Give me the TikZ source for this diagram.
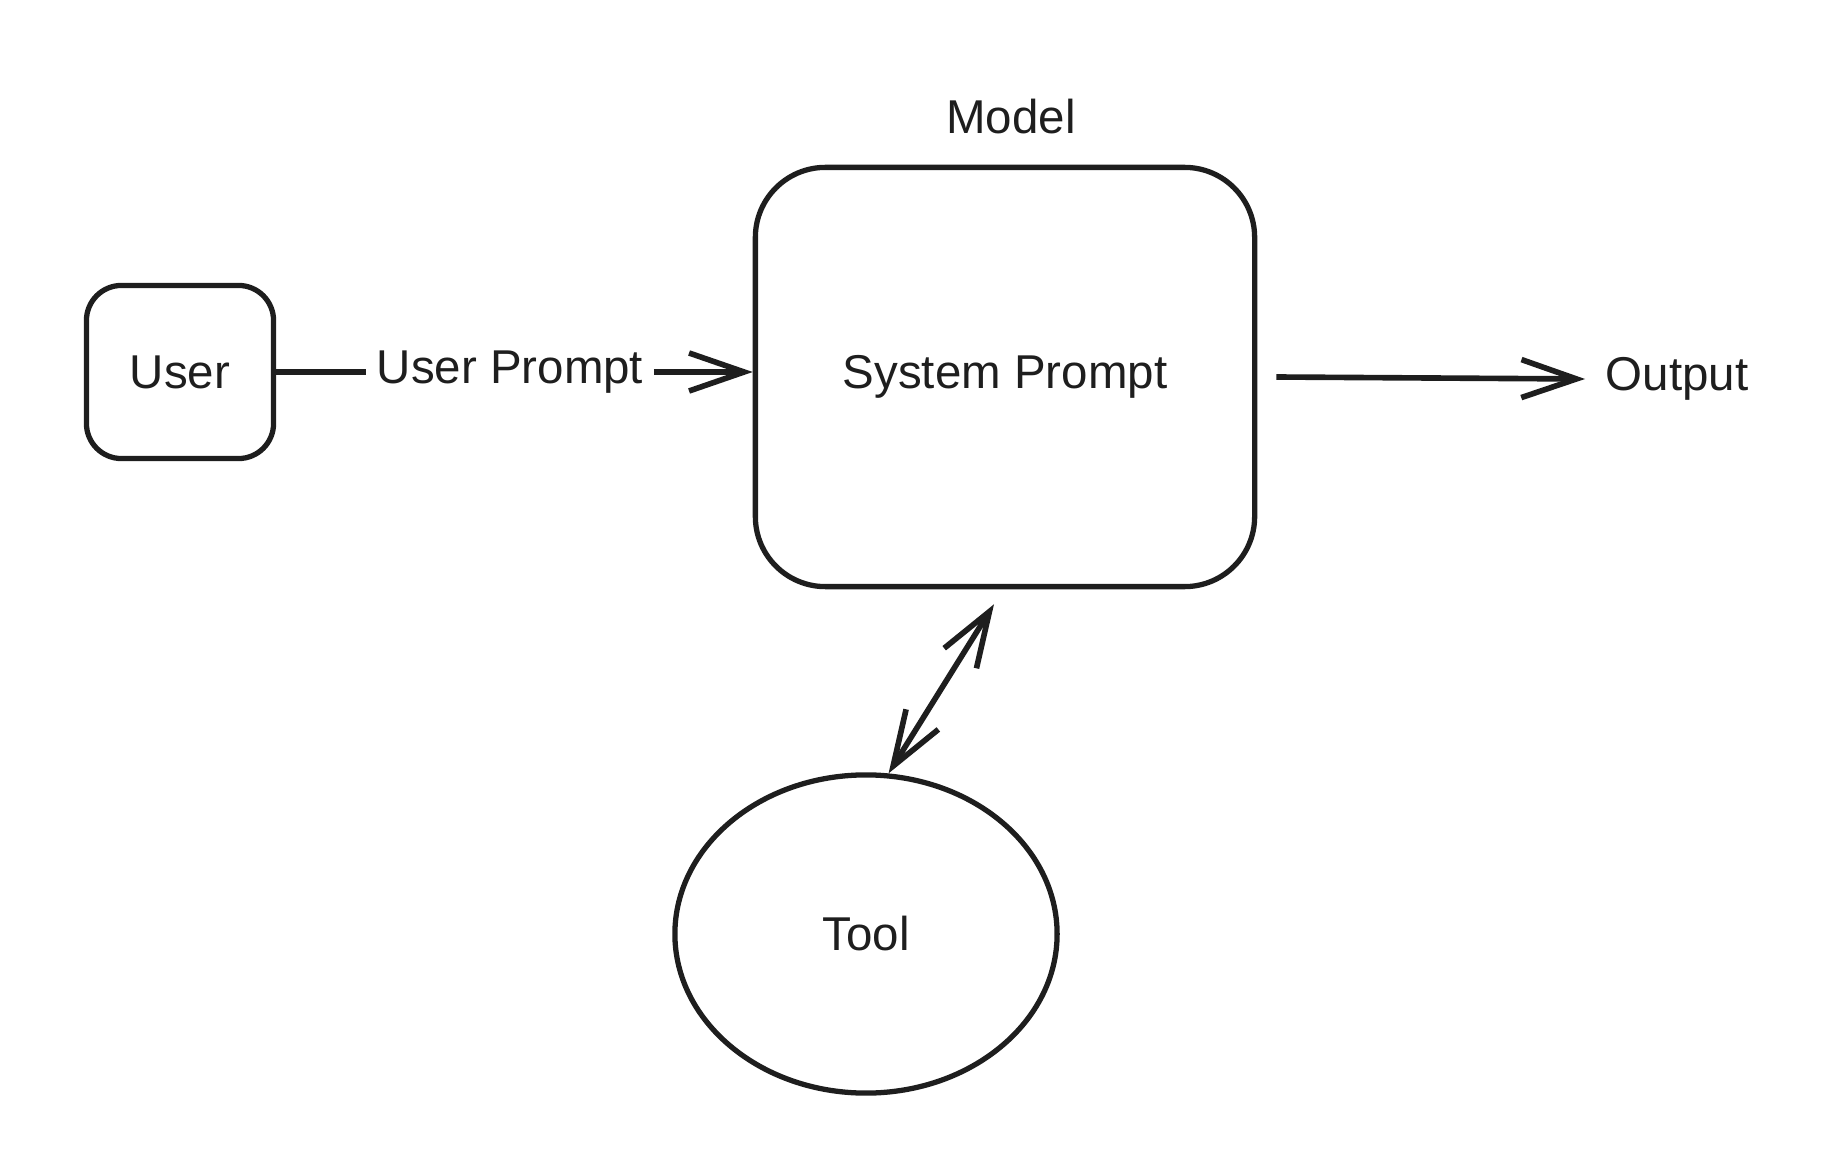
\documentclass[tikz,border=0pt]{standalone}
\usepackage{fontspec}
\setmainfont{Liberation Sans}
\usetikzlibrary{arrows.meta,positioning,shapes.geometric}
\definecolor{ink}{HTML}{1E1E1E}
\tikzset{
  blk/.style={draw=ink,rectangle,line width=1.5pt,align=center,text=ink,font=\fontsize{13.5}{16}\selectfont},
  userblk/.style={blk,minimum width=1.87cm,minimum height=1.73cm,rounded corners=0.35cm},
  modelblk/.style={blk,minimum width=4.99cm,minimum height=4.19cm,rounded corners=0.7cm},
  toolblk/.style={blk,ellipse,minimum width=3.82cm,minimum height=3.18cm},
  lbl/.style={text=ink,font=\fontsize{13.5}{16}\selectfont,inner sep=0.1cm},
  arr/.style={-{Straight Barb[length=5.5mm,width=3.8mm]},line width=1.6pt,draw=ink},
  darr/.style={{Straight Barb[length=5.5mm,width=3.8mm]}-{Straight Barb[length=5.5mm,width=3.8mm]},line width=1.6pt,draw=ink},
  lne/.style={line width=1.6pt,draw=ink}
}
\begin{document}
\begin{tikzpicture}[x=0.01cm,y=-0.01cm]
  \useasboundingbox (0,0) rectangle (1830,1158);
  \node[userblk] (user) at (180,372) {User};
  \node[modelblk] (model) at (1005,377) {System Prompt};
  \node[lbl] (mlabel) at (1011,117) {Model};
  \node[lbl] (uprompt) at (510,372) {User Prompt};
  \node[lbl,inner sep=0.2cm] (output) at (1677,379) {Output};
  \node[toolblk] (tool) at (866,934) {Tool};

  \draw[lne] (user.east) -- (uprompt.west);
  \draw[arr] (uprompt.east) -- (uprompt.east -| model.west);
  \draw[arr] ([xshift=0.19cm]model.east) -- (output.west);
  \draw[darr] (tool.82) -- ([xshift=-0.11cm,yshift=-0.15cm]model.south);
\end{tikzpicture}
\end{document}
